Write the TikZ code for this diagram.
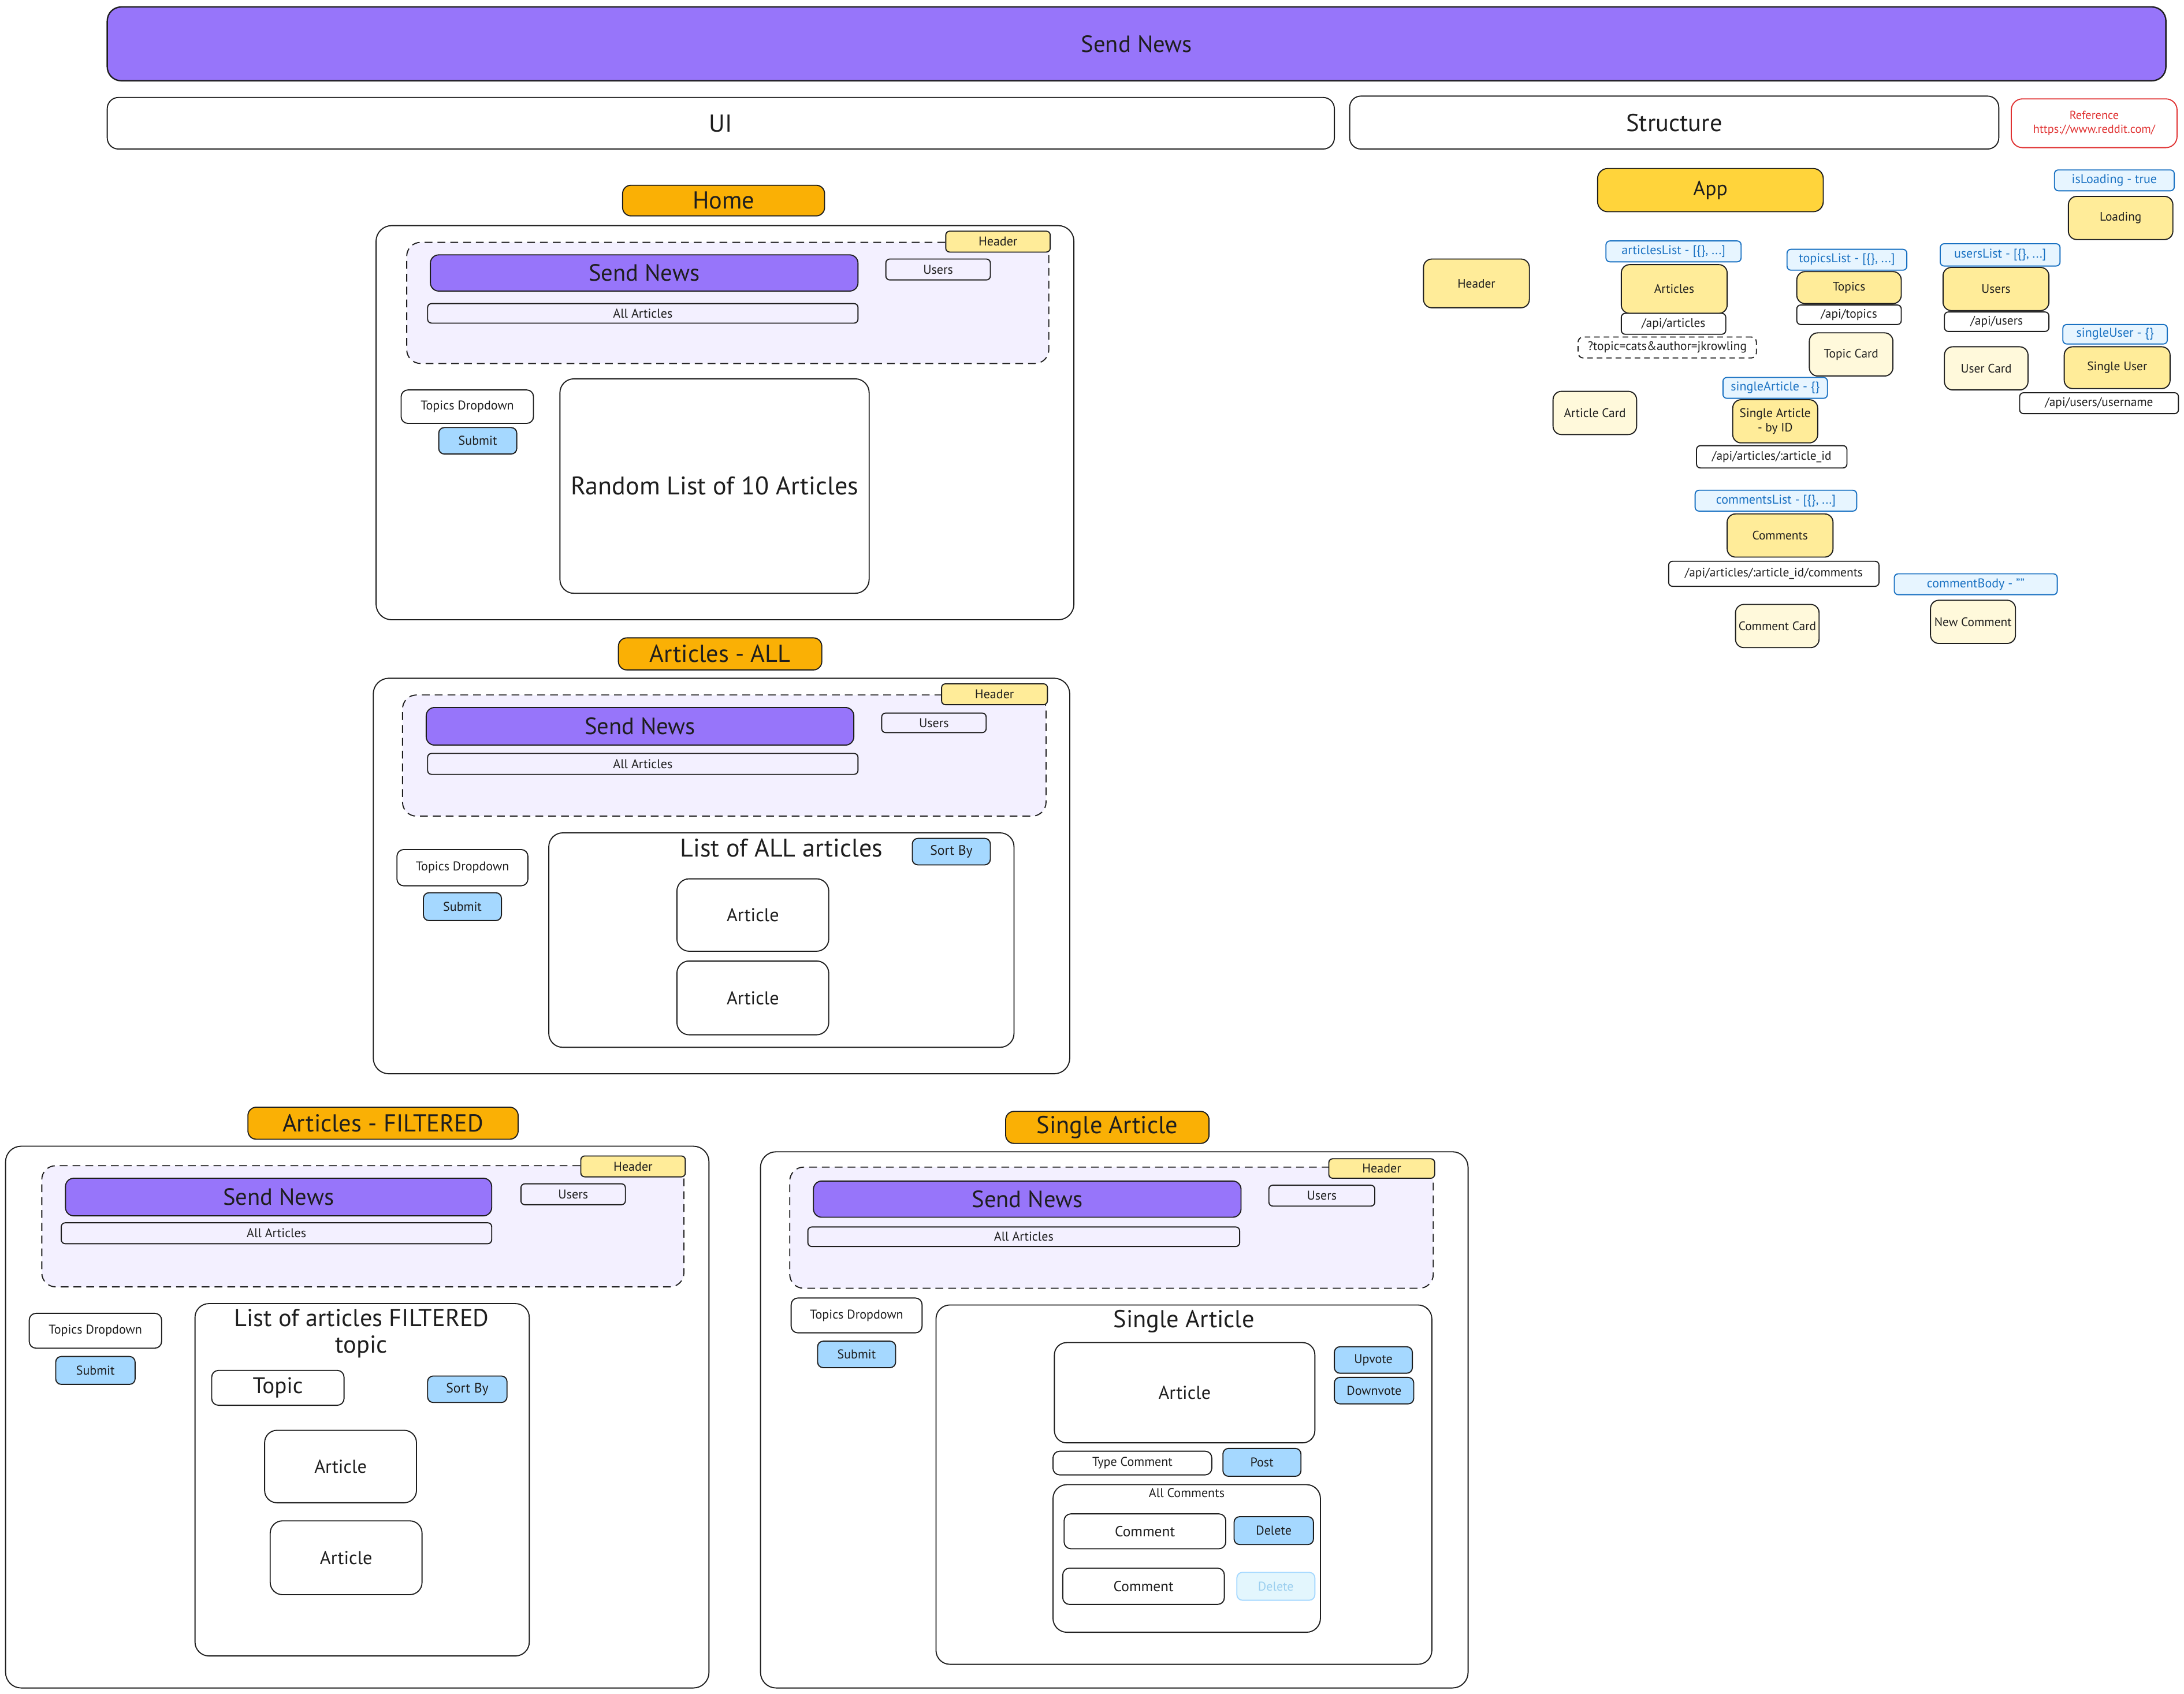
\documentclass[tikz,border=0pt]{standalone}
\usepackage{fontspec}
\setmainfont{PT Sans}

\definecolor{ink}{HTML}{1E1E1E}
\definecolor{brandviolet}{HTML}{9775FA}
\definecolor{amber}{HTML}{FAB005}
\definecolor{appyellow}{HTML}{FFD43B}
\definecolor{softyellow}{HTML}{FFEC99}
\definecolor{cream}{HTML}{FFF9DB}
\definecolor{lavender}{HTML}{F3F0FF}
\definecolor{sky}{HTML}{A5D8FF}
\definecolor{statefill}{HTML}{E7F5FF}
\definecolor{stateblue}{HTML}{1971C2}
\definecolor{refred}{HTML}{E03131}
\definecolor{fadedfill}{HTML}{E3F6FD}
\definecolor{fadedtext}{HTML}{9CCFEF}

% font sizes
\newcommand\fsTitle{\fontsize{12}{14}\selectfont}
\newcommand\fsSection{\fontsize{12.5}{15}\selectfont}
\newcommand\fsLabel{\fontsize{12.5}{15}\selectfont}
\newcommand\fsPanel{\fontsize{13}{17}\selectfont}
\newcommand\fsSmall{\fontsize{6.5}{8}\selectfont}
\newcommand\fsCard{\fontsize{9.5}{11}\selectfont}
\newcommand\fsStruct{\fontsize{6.3}{7.4}\selectfont}
\newcommand\fsState{\fontsize{6.5}{8}\selectfont}
\newcommand\fsRef{\fontsize{6}{7.2}\selectfont}

% box from corner (x1,y1) to corner (x2,y2): name, x1, y1, x2, y2, style, text
\newcommand\boxat[7]{%
  \node[#6, minimum width={(#4-#2)*0.025cm}, minimum height={(#5-#3)*0.025cm}]
    (#1) at ({(#2+#4)/2},{(#3+#5)/2}) {#7};}

\begin{document}
\begin{tikzpicture}[x=0.025cm, y=-0.025cm,
  base/.style={draw=ink, line width=0.55pt, inner sep=1pt, outer sep=0pt, text=ink, align=center},
  frame/.style={base, fill=white, rounded corners=0.28cm},
  banner/.style={base, line width=0.7pt, fill=brandviolet, rounded corners=0.25cm, font=\fsTitle},
  section/.style={base, fill=white, rounded corners=0.2cm, font=\fsSection},
  refbox/.style={base, draw=refred, text=refred, fill=white, rounded corners=0.2cm, font=\fsRef},
  pagelabel/.style={base, fill=amber, rounded corners=0.15cm, font=\fsLabel},
  brand/.style={base, fill=brandviolet, rounded corners=0.15cm, font=\fsTitle},
  hdrzone/.style={base, fill=lavender, dash pattern=on 0.14cm off 0.09cm, rounded corners=0.25cm},
  tag/.style={base, fill=softyellow, rounded corners=0.07cm, font=\fsSmall},
  navbtn/.style={base, fill=lavender, rounded corners=0.07cm, font=\fsSmall},
  field/.style={base, fill=white, rounded corners=0.12cm, font=\fsSmall},
  button/.style={base, fill=sky, rounded corners=0.1cm, font=\fsSmall},
  fadedbutton/.style={base, draw=sky, fill=fadedfill, text=fadedtext, rounded corners=0.1cm, font=\fsSmall},
  panel/.style={base, fill=white, rounded corners=0.25cm},
  card/.style={base, fill=white, rounded corners=0.22cm, font=\fsCard},
  paneltitle/.style={inner sep=0pt, text=ink, align=center, font=\fsPanel},
  comp/.style={base, fill=softyellow, rounded corners=0.15cm, font=\fsStruct},
  appbox/.style={base, fill=appyellow, rounded corners=0.18cm, font=\fontsize{10.5}{12}\selectfont},
  cardc/.style={base, fill=cream, rounded corners=0.15cm, font=\fsStruct},
  endpoint/.style={base, fill=white, rounded corners=0.07cm, font=\fsStruct},
  query/.style={base, fill=white, dash pattern=on 0.1cm off 0.07cm, rounded corners=0.09cm, font=\fsStruct},
  state/.style={base, draw=stateblue, fill=statefill, text=stateblue, rounded corners=0.07cm, font=\fsState}]

\useasboundingbox (0,0) rectangle (1568,1216);
\fill[white] (0,0) rectangle (1568,1216);

% ---------- top bars ----------
\boxat{banner}{77}{5}{1555}{58}{banner}{Send News}
\boxat{ui}{77}{70}{958}{107}{section}{UI}
\boxat{structure}{969}{69}{1435}{107}{section}{Structure}
\boxat{reference}{1444}{71}{1563}{106}{refbox}{Reference\\https://www.reddit.com/}

% ---------- Home ----------
\boxat{homeLbl}{447}{133}{592}{155}{pagelabel}{Home}
\boxat{homeFrame}{270}{162}{771}{445}{frame}{}
\boxat{homeHdr}{292}{174}{753}{261}{hdrzone}{}
\boxat{homeHdrTag}{679}{166}{754}{181}{tag}{Header}
\boxat{homeBrand}{309}{183}{616}{209}{brand}{Send News}
\boxat{homeUsers}{636}{186}{711}{201}{navbtn}{Users}
\boxat{homeAll}{307}{218}{616}{232}{navbtn}{All Articles}
\boxat{homeDrop}{288}{280}{383}{304}{field}{Topics Dropdown}
\boxat{homeSubmit}{315}{307}{371}{326}{button}{Submit}
\boxat{homeList}{402}{272}{624}{426}{panel}{\fsPanel Random List of 10 Articles}

% ---------- Articles - ALL ----------
\boxat{allLbl}{444}{458}{590}{481}{pagelabel}{Articles - ALL}
\boxat{allFrame}{268}{487}{768}{771}{frame}{}
\boxat{allHdr}{289}{499}{751}{586}{hdrzone}{}
\boxat{allHdrTag}{676}{491}{752}{506}{tag}{Header}
\boxat{allBrand}{306}{508}{613}{535}{brand}{Send News}
\boxat{allUsers}{633}{512}{708}{526}{navbtn}{Users}
\boxat{allAll}{307}{541}{616}{556}{navbtn}{All Articles}
\boxat{allDrop}{285}{610}{379}{636}{field}{Topics Dropdown}
\boxat{allSubmit}{304}{641}{360}{661}{button}{Submit}
\boxat{allList}{394}{598}{728}{752}{panel}{}
\node[paneltitle] (allListTitle) at (561,609) {List of ALL articles};
\boxat{allSort}{655}{602}{711}{621}{button}{\fontsize{7}{8}\selectfont Sort By}
\boxat{allArt1}{486}{631}{595}{683}{card}{Article}
\boxat{allArt2}{486}{690}{595}{743}{card}{Article}

% ---------- Articles - FILTERED ----------
\boxat{fltLbl}{178}{795}{372}{818}{pagelabel}{Articles - FILTERED}
\boxat{fltFrame}{4}{823}{509}{1212}{frame}{}
\boxat{fltHdr}{30}{837}{491}{924}{hdrzone}{}
\boxat{fltHdrTag}{417}{830}{492}{845}{tag}{Header}
\boxat{fltBrand}{47}{846}{353}{873}{brand}{Send News}
\boxat{fltUsers}{374}{850}{449}{865}{navbtn}{Users}
\boxat{fltAll}{44}{878}{353}{893}{navbtn}{All Articles}
\boxat{fltDrop}{21}{943}{116}{968}{field}{Topics Dropdown}
\boxat{fltSubmit}{40}{974}{97}{994}{button}{Submit}
\boxat{fltList}{140}{936}{380}{1189}{panel}{}
\node[paneltitle, font=\fontsize{12.5}{13.5}\selectfont] (fltListTitle) at (259.6,957.5) {List of articles FILTERED\\topic};
\boxat{fltTopic}{152}{984}{247}{1009}{field}{\fontsize{11.5}{13}\selectfont Topic}
\boxat{fltSort}{307}{988}{364}{1007}{button}{\fontsize{7}{8}\selectfont Sort By}
\boxat{fltArt1}{190}{1027}{299}{1079}{card}{Article}
\boxat{fltArt2}{194}{1092}{303}{1145}{card}{Article}

% ---------- Single Article ----------
\boxat{sglLbl}{722}{798}{868}{821}{pagelabel}{Single Article}
\boxat{sglFrame}{546}{827}{1054}{1212}{frame}{}
\boxat{sglHdr}{567}{838}{1029}{925}{hdrzone}{}
\boxat{sglHdrTag}{954}{832}{1030}{846}{tag}{Header}
\boxat{sglBrand}{584}{848}{891}{874}{brand}{Send News}
\boxat{sglUsers}{911}{851}{987}{866}{navbtn}{Users}
\boxat{sglAll}{580}{881}{890}{895}{navbtn}{All Articles}
\boxat{sglDrop}{568}{932}{662}{957}{field}{Topics Dropdown}
\boxat{sglSubmit}{587}{963}{643}{982}{button}{Submit}
\boxat{sglBox}{672}{937}{1028}{1195}{panel}{}
\node[paneltitle, font=\fontsize{12.5}{15}\selectfont] (sglBoxTitle) at (850,948.6) {Single Article};
\boxat{sglArticle}{757}{964}{944}{1036}{card}{Article}
\boxat{sglUp}{958}{967}{1014}{986}{button}{Upvote}
\boxat{sglDown}{958}{989}{1015}{1008}{button}{Downvote}
\boxat{sglType}{756}{1042}{870}{1059}{field}{Type Comment}
\boxat{sglPost}{878}{1040}{934}{1060}{button}{Post}
\boxat{sglComments}{756}{1066}{948}{1172}{panel}{}
\node[paneltitle, font=\fsSmall] (sglCommentsTitle) at (852,1072) {All Comments};
\boxat{sglC1}{764}{1087}{880}{1112}{field}{\fontsize{7.5}{9}\selectfont Comment}
\boxat{sglDel1}{886}{1089}{943}{1109}{button}{Delete}
\boxat{sglC2}{763}{1126}{879}{1152}{field}{\fontsize{7.5}{9}\selectfont Comment}
\boxat{sglDel2}{888}{1129}{944}{1149}{fadedbutton}{Delete}

% ---------- Structure ----------
\boxat{app}{1147}{121}{1309}{152}{appbox}{App}
\boxat{isLoading}{1475}{122}{1561}{137}{state}{isLoading - true}
\boxat{loading}{1485}{141}{1560}{172}{comp}{Loading}
\boxat{strHeader}{1022}{186}{1098}{221}{comp}{Header}

\boxat{articlesList}{1153}{173}{1250}{188}{state}{articlesList - [\{\}, ...]}
\boxat{articles}{1164}{190}{1240}{225}{comp}{Articles}
\boxat{apiArticles}{1164}{225}{1239}{240}{endpoint}{/api/articles}
\boxat{apiQuery}{1133}{242}{1261}{257}{query}{?topic=cats\&author=jkrowling}

\boxat{topicsList}{1283}{179}{1369}{194}{state}{topicsList - [\{\}, ...]}
\boxat{topics}{1290}{195}{1365}{218}{comp}{Topics}
\boxat{apiTopics}{1290}{219}{1365}{233}{endpoint}{/api/topics}
\boxat{topicCard}{1299}{239}{1359}{270}{cardc}{Topic Card}

\boxat{usersList}{1393}{175}{1479}{191}{state}{usersList - [\{\}, ...]}
\boxat{users}{1395}{192}{1471}{223}{comp}{Users}
\boxat{apiUsers}{1396}{224}{1471}{238}{endpoint}{/api/users}
\boxat{singleUserState}{1481}{233}{1556}{247}{state}{singleUser - \{\}}
\boxat{userCard}{1396}{249}{1456}{280}{cardc}{User Card}
\boxat{singleUser}{1482}{249}{1558}{279}{comp}{Single User}
\boxat{apiUser}{1450}{282}{1564}{297}{endpoint}{/api/users/username}

\boxat{articleCard}{1115}{281}{1175}{312}{cardc}{Article Card}
\boxat{singleArticleState}{1237}{271}{1312}{286}{state}{singleArticle - \{\}}
\boxat{singleArticle}{1244}{287}{1305}{318}{comp}{Single Article\\- by ID}
\boxat{apiArticle}{1218}{320}{1326}{336}{endpoint}{/api/articles/:article\_id}

\boxat{commentsList}{1217}{352}{1333}{367}{state}{commentsList - [\{\}, ...]}
\boxat{comments}{1240}{369}{1316}{400}{comp}{Comments}
\boxat{apiComments}{1198}{403}{1349}{421}{endpoint}{/api/articles/:article\_id/comments}
\boxat{commentBody}{1360}{412}{1477}{427}{state}{commentBody - ""}
\boxat{commentCard}{1246}{434}{1306}{465}{cardc}{Comment Card}
\boxat{newComment}{1386}{431}{1447}{462}{cardc}{New Comment}

\end{tikzpicture}
\end{document}
